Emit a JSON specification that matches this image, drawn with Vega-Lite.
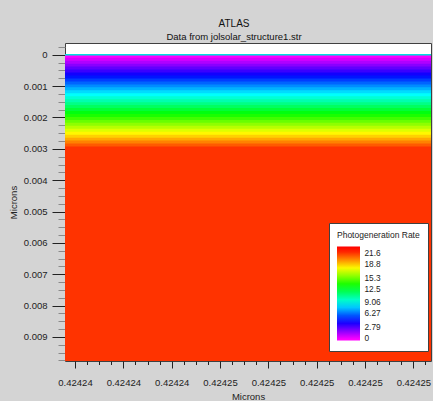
{
  "$schema": "https://vega.github.io/schema/vega-lite/v6.json",
  "width": 366,
  "height": 318,
  "autosize": {"type": "none"},
  "padding": {"left": 65, "top": 43, "right": 2, "bottom": 40},
  "background": "#d4d4d4",
  "config": {
    "font": "Liberation Sans",
    "view": {"fill": "white", "stroke": "#404040", "strokeWidth": 1}
  },
  "title": {
    "text": "ATLAS",
    "subtitle": "Data from jolsolar_structure1.str",
    "anchor": "middle",
    "frame": "group",
    "dx": -14,
    "offset": 1.5,
    "fontSize": 10,
    "fontWeight": "normal",
    "color": "#111111",
    "subtitleFontSize": 9.5,
    "subtitleColor": "#111111",
    "subtitlePadding": 3.5
  },
  "resolve": {"axis": {"y": "independent"}},
  "layer": [
    {
      "data": {
        "values": [
          {"depth": 0, "rate": 0},
          {"depth": 0.0000944, "rate": 0.697},
          {"depth": 0.0001888, "rate": 1.394},
          {"depth": 0.0002832, "rate": 2.09},
          {"depth": 0.0003776, "rate": 2.787},
          {"depth": 0.000472, "rate": 3.484},
          {"depth": 0.0005664, "rate": 4.181},
          {"depth": 0.0006608, "rate": 4.877},
          {"depth": 0.0007552, "rate": 5.574},
          {"depth": 0.0008496, "rate": 6.271},
          {"depth": 0.000944, "rate": 6.968},
          {"depth": 0.0010384, "rate": 7.665},
          {"depth": 0.0011328, "rate": 8.361},
          {"depth": 0.0012272, "rate": 9.058},
          {"depth": 0.0013216, "rate": 9.755},
          {"depth": 0.001416, "rate": 10.452},
          {"depth": 0.0015104, "rate": 11.148},
          {"depth": 0.0016048, "rate": 11.845},
          {"depth": 0.0016992, "rate": 12.542},
          {"depth": 0.0017936, "rate": 13.239},
          {"depth": 0.001888, "rate": 13.935},
          {"depth": 0.0019824, "rate": 14.632},
          {"depth": 0.0020768, "rate": 15.329},
          {"depth": 0.0021712, "rate": 16.026},
          {"depth": 0.0022656, "rate": 16.723},
          {"depth": 0.00236, "rate": 17.419},
          {"depth": 0.0024544, "rate": 18.116},
          {"depth": 0.0025488, "rate": 18.813},
          {"depth": 0.0026432, "rate": 19.51},
          {"depth": 0.0027376, "rate": 20.206},
          {"depth": 0.002832, "rate": 20.903},
          {"depth": 0.0029264, "rate": 21.6}
        ]
      },
      "mark": {"type": "rect", "clip": true},
      "encoding": {
        "x": {
          "datum": 0.424244,
          "type": "quantitative",
          "scale": {"domain": [0.42424445862, 0.42424597308], "nice": false, "zero": false},
          "axis": {
            "title": "Microns",
            "domain": false,
            "grid": false,
            "values": [0.4242445, 0.42424455, 0.4242446, 0.42424465, 0.4242447, 0.42424475, 0.4242448, 0.42424485, 0.4242449, 0.42424495, 0.424245, 0.42424505, 0.4242451, 0.42424515, 0.4242452, 0.42424525, 0.4242453, 0.42424535, 0.4242454, 0.42424545, 0.4242455, 0.42424555, 0.4242456, 0.42424565, 0.4242457, 0.42424575, 0.4242458, 0.42424585, 0.4242459, 0.42424595],
            "labelExpr": "abs((datum.value - 0.4242445) / 0.0000002 - round((datum.value - 0.4242445) / 0.0000002)) < 0.01 ? format(datum.value, '.5f') : ''",
            "tickSize": {"condition": {"test": "abs((datum.value - 0.4242445) / 0.0000002 - round((datum.value - 0.4242445) / 0.0000002)) < 0.01", "value": 7}, "value": 3.5},
            "tickColor": "#222222",
            "tickWidth": 1,
            "labelOverlap": false,
            "labelFlush": false,
            "labelFontSize": 9.5,
            "labelColor": "#222222",
            "labelPadding": 9,
            "titleFontSize": 9.5,
            "titleFontWeight": "normal",
            "titleColor": "#222222",
            "titlePadding": 5
          }
        },
        "x2": {"datum": 0.424246},
        "y": {
          "field": "depth",
          "type": "quantitative",
          "scale": {"domain": [0.009768, -0.000376], "nice": false, "zero": false},
          "axis": {
            "title": "Microns",
            "orient": "left",
            "domain": false,
            "grid": false,
            "values": [0, 0.001, 0.002, 0.003, 0.004, 0.005, 0.006, 0.007, 0.008, 0.009],
            "format": ".3~f",
            "tickSize": 13,
            "tickColor": "#222222",
            "tickWidth": 1,
            "labelOverlap": false,
            "labelFlush": false,
            "labelFontSize": 9.5,
            "labelColor": "#222222",
            "labelPadding": 5,
            "titleFontSize": 9.5,
            "titleFontWeight": "normal",
            "titleColor": "#222222",
            "titlePadding": 5
          }
        },
        "y2": {"datum": 0.0098},
        "color": {
          "field": "rate",
          "type": "quantitative",
          "title": "Photogeneration Rate",
          "scale": {
            "type": "linear",
            "interpolate": "rgb",
            "domain": [-0.3, 0, 0.697, 1.394, 2.09, 2.787, 3.484, 4.181, 4.877, 5.574, 6.271, 6.968, 7.665, 8.361, 9.058, 9.755, 10.452, 11.148, 11.845, 12.542, 13.239, 13.935, 14.632, 15.329, 16.026, 16.723, 17.419, 18.116, 18.813, 19.51, 20.206, 20.903, 21.6, 23.4],
            "range": ["#FF00FF", "#FF00FF", "#D700FF", "#B000FF", "#8900FF", "#6100FF", "#3A00FF", "#1200FF", "#0015FF", "#003DFF", "#0064FF", "#008CFF", "#00B3FF", "#00DBFF", "#00FFFC", "#00FFD4", "#00FFAD", "#00FF85", "#00FF5E", "#00FF36", "#00FF0F", "#19FF00", "#40FF00", "#68FF00", "#8FFF00", "#B7FF00", "#DEFF00", "#FFF800", "#FFD100", "#FFA900", "#FF8200", "#FF5A00", "#FF3300", "#FF0000"]
          },
          "legend": {
            "orient": "none",
            "legendX": 264,
            "legendY": 180,
            "type": "gradient",
            "direction": "vertical",
            "gradientLength": 94,
            "gradientThickness": 23,
            "gradientStrokeWidth": 0,
            "values": [0, 2.79, 6.27, 9.06, 12.5, 15.3, 18.8, 21.6],
            "labelExpr": "format(datum.value, '.3~g')",
            "labelFontSize": 8.3,
            "labelColor": "#222222",
            "labelOffset": 4.5,
            "labelOverlap": false,
            "titleFontSize": 8.5,
            "titleFontWeight": "normal",
            "titleColor": "#222222",
            "titlePadding": 7,
            "titleLimit": 200,
            "padding": 8,
            "fillColor": "white",
            "strokeColor": "#404040",
            "cornerRadius": 0
          }
        }
      }
    },
    {
      "data": {"values": [{"depth": 0}]},
      "mark": {"type": "rule", "color": "#00e0e0", "strokeWidth": 1.5},
      "encoding": {
        "y": {
          "field": "depth",
          "type": "quantitative",
          "axis": {
            "title": null,
            "orient": "left",
            "domain": false,
            "grid": false,
            "labels": false,
            "values": [-0.00025, 0.00025, 0.0005, 0.00075, 0.00125, 0.0015, 0.00175, 0.00225, 0.0025, 0.00275, 0.00325, 0.0035, 0.00375, 0.00425, 0.0045, 0.00475, 0.00525, 0.0055, 0.00575, 0.00625, 0.0065, 0.00675, 0.00725, 0.0075, 0.00775, 0.00825, 0.0085, 0.00875, 0.00925, 0.0095, 0.00975],
            "tickSize": 7,
            "tickColor": "#8a8a8a",
            "tickWidth": 1
          }
        }
      }
    }
  ]
}
